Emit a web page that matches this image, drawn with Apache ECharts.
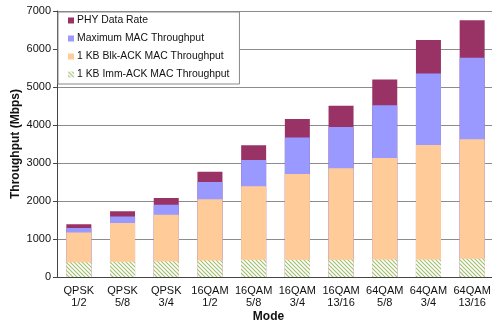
<!DOCTYPE html>
<html><head><meta charset="utf-8">
<script src="https://cdn.jsdelivr.net/npm/echarts@6/dist/echarts.min.js"></script>
<style>html,body{margin:0;padding:0;background:#fff}#c{width:492px;height:322px}</style>
</head><body><div id="c"></div>
<script>
const categories = ['QPSK\n1/2','QPSK\n5/8','QPSK\n3/4','16QAM\n1/2','16QAM\n5/8','16QAM\n3/4','16QAM\n13/16','64QAM\n5/8','64QAM\n3/4','64QAM\n13/16'];
const phyRate = [1386, 1733, 2079, 2772, 3465, 4158, 4505, 5198, 6237, 6757];
const maxMac = [1287, 1595, 1903, 2500, 3080, 3670, 3950, 4521, 5357, 5769];
const blkAck = [1170, 1418, 1640, 2043, 2386, 2711, 2860, 3132, 3475, 3625];
const immAck = [385, 400, 409, 435, 453, 453, 455, 461, 461, 480];
const yTicks = [0, 1000, 2000, 3000, 4000, 5000, 6000, 7000];

const cv = document.createElement('canvas');
cv.width = 4; cv.height = 4;
const g = cv.getContext('2d');
g.fillStyle = '#ffffff'; g.fillRect(0,0,4,4);
g.strokeStyle = '#a3c070'; g.lineWidth = 1.2;
g.beginPath();
g.moveTo(-1,-1); g.lineTo(5,5);
g.moveTo(-1,3); g.lineTo(1,5);
g.moveTo(3,-1); g.lineTo(5,1);
g.stroke();
const hatch = {image: cv, repeat: 'repeat'};

const font = 'Liberation Sans';
const chart = echarts.init(document.getElementById('c'), null, {renderer:'canvas'});
const bw = 25;
chart.setOption({
  animation: false,
  textStyle: {fontFamily: font},
  grid: {left: 57, top: 11, width: 437, height: 266, containLabel: false, outerBoundsMode: 'none'},
  legend: {
    orient: 'vertical', left: 58, top: 12,
    data: ['PHY Data Rate','Maximum MAC Throughput','1 KB Blk-ACK MAC Throughput','1 KB Imm-ACK MAC Throughput'],
    itemWidth: 6, itemHeight: 6, itemGap: 5,
    padding: [2, 10, 3, 10],
    backgroundColor: '#fff', borderColor: '#888', borderWidth: 1,
    textStyle: {fontFamily: font, fontSize: 10.4, color: '#111', lineHeight: 13, padding: [0,0,0,-2]},
    icon: 'rect'
  },
  xAxis: {
    type: 'category', data: categories,
    name: 'Mode', nameLocation: 'middle', nameGap: 34, nameMoveOverlap: false,
    nameTextStyle: {fontFamily: font, fontSize: 12, fontWeight: 'bold', color: '#111', padding: [0,0,0,-14]},
    axisLine: {lineStyle: {color: '#444'}},
    axisTick: {length: 5, lineStyle: {color: '#444'}},
    axisLabel: {interval: 0, fontFamily: font, fontSize: 11, color: '#111', lineHeight: 12, margin: 8}
  },
  yAxis: {
    type: 'value', min: yTicks[0], max: yTicks[yTicks.length-1], interval: 1000,
    name: 'Throughput (Mbps)', nameLocation: 'middle', nameGap: 35, nameMoveOverlap: false,
    nameTextStyle: {fontFamily: font, fontSize: 12, fontWeight: 'bold', color: '#111'},
    axisLine: {show: true, lineStyle: {color: '#444'}},
    axisTick: {show: true, length: 4, lineStyle: {color: '#444'}},
    axisLabel: {fontFamily: font, fontSize: 11, color: '#111', margin: 6, formatter: v => String(v)},
    splitLine: {lineStyle: {color: '#8c8c8c'}}
  },
  series: [
    {name: 'PHY Data Rate', type: 'bar', data: phyRate, barWidth: bw, barGap: '-100%', itemStyle: {color: '#993366'}, z: 1},
    {name: 'Maximum MAC Throughput', type: 'bar', data: maxMac, barWidth: bw, barGap: '-100%', itemStyle: {color: '#9999ff'}, z: 2},
    {name: '1 KB Blk-ACK MAC Throughput', type: 'bar', data: blkAck, barWidth: bw, barGap: '-100%', itemStyle: {color: '#ffcc99'}, z: 3},
    {name: '1 KB Imm-ACK MAC Throughput', type: 'bar', data: immAck, barWidth: bw, barGap: '-100%', itemStyle: {color: hatch}, z: 4}
  ]
});
</script></body></html>
